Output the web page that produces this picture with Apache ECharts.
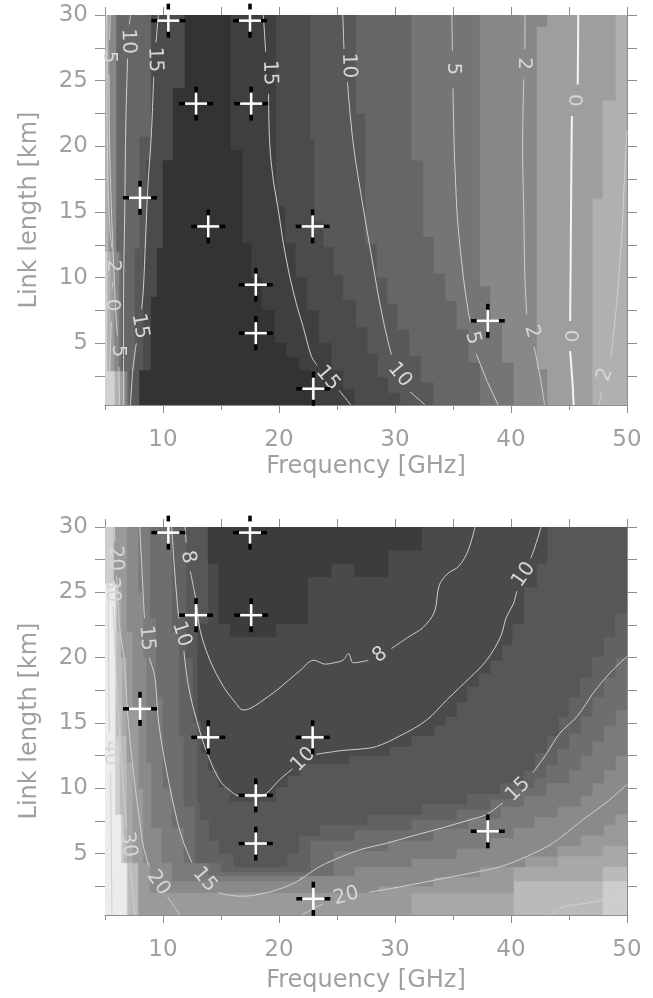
<!DOCTYPE html>
<html>
<head>
<meta charset="utf-8">
<script src="https://cdn.jsdelivr.net/npm/echarts@6/dist/echarts.min.js"></script>
<style>
html, body { margin: 0; padding: 0; background: #fff; }
#chart { width: 653px; height: 998px; }
</style>
</head>
<body>
<div id="chart"></div>
<script>
// ---------- data (freq in GHz, length in km) ----------
const FREQ_MIN = 5, FREQ_MAX = 50, KM_MIN = 0.3, KM_MAX = 30

// measurement sites (same in both panels)
const siteFreq = [10.46, 17.5, 12.85, 17.6, 8.02, 13.9, 22.9, 18.0, 18.0, 22.96, 38.0]
const siteKm = [29.57, 29.57, 23.25, 23.25, 16.08, 13.9, 13.9, 9.46, 5.77, 1.54, 6.71]

// top panel: shaded levels, darkest first. steps = [km where step starts (from top), freq]
const topLeftEdges = [
    [[30, 11.9], [24.4, 10.9], [18.9, 10.0], [12.2, 9.5], [8.5, 9.0], [2.9, 8.0]],
    [[30, 11.9], [24.4, 10.9], [18.9, 10.0], [12.2, 9.5], [8.5, 9.0], [2.9, 8.0]],
    [[30, 9.0], [18.9, 8.6], [12.2, 8.3], [2.9, 8.0]],
    [[30, 9.0], [20.7, 8.0], [12.2, 7.6], [2.9, 7.16]],
    [[30, 6.0], [12, 6.4], [2.9, 7.0]],
    [[30, 6.0], [12, 6.2], [2.9, 6.9]],
    [[30, 5.4], [12, 5.8], [2.9, 6.72]],
    [[30, 5.3], [12, 5.5], [2.9, 6.3]],
    [[30, 5.0], [12, 5.2], [2.9, 5.86]],
    [[30, 5.0]]
]
const topRightEdges = [
    [[30, 15.8], [19.7, 16.8], [12.6, 17.6], [10, 18.5], [7.5, 19.6], [5, 20.6], [3.9, 21.7], [2.9, 22.7]],
    [[30, 19.7], [15.4, 20.5], [12.6, 21.4], [10, 22.4], [7.5, 23.4], [5, 24.5], [2.9, 25.5], [1.5, 26.5]],
    [[30, 22.7], [20.5, 23.0], [14.3, 23.8], [12.3, 24.7], [10.2, 25.5], [8.3, 26.6], [6.2, 27.6], [4.2, 28.5], [2.4, 29.4], [1.2, 30.4]],
    [[30, 26.6], [22.5, 27.4], [12.5, 28.4], [10, 29.3], [8, 30.2], [6, 31.2], [4, 32.2], [2, 33.3]],
    [[30, 31.4], [18.9, 32.4], [13.1, 33.3], [10.3, 34.3], [8.2, 35.3], [6, 36.3], [3.5, 37.3]],
    [[30, 37.3], [9.3, 38.2], [6.7, 39.2], [3.5, 40.2]],
    [[30, 43.1], [29.1, 42.2], [3.0, 43.1]],
    [[30, 49.0], [23.5, 47.9], [16, 47.0]],
    [[30, 50]],
    [[30, 50]]
]

// bottom panel: shaded levels, lightest first. left steps + lower-right boundary vertices
const botLeftEdges = [
    [[30, 5.0]],
    [[30, 5.0], [25.7, 5.9], [8, 6.4], [4.3, 6.9]],
    [[30, 5.8], [25.7, 6.0], [14, 6.3], [8, 6.6], [4.3, 7.0]],
    [[30, 5.8], [25.7, 6.1], [22, 6.5], [14, 6.9], [4.3, 7.9]],
    [[30, 5.8], [25.7, 6.4], [20, 6.9], [12, 7.4], [4.3, 7.9]],
    [[30, 6.9], [22, 7.4], [16, 7.9], [10, 8.3], [4.3, 8.9]],
    [[30, 7.9], [25, 8.3], [20, 8.6], [12, 9.0], [7, 9.9], [4.3, 10.8]],
    [[30, 8.9], [23, 9.4], [17, 10.0], [10, 10.8], [7, 11.8]],
    [[30, 10.8], [22, 11.4], [14, 11.8], [8.6, 12.8]],
    [[30, 12.0], [20, 12.6], [15, 13.0], [8.9, 13.2], [7.6, 14.0], [6, 14.9]]
]
const botLowerEdges = [
    [],
    [],
    [[50, 2.9], [47.9, 2.9], [47.9, 0.3]],
    [[50, 4.0], [47.9, 4.0], [47.9, 2.9], [40.2, 2.9], [40.2, 0.3]],
    [[50, 5.6], [47.9, 5.6], [47.9, 4.8], [44, 4.8], [44, 4.0], [40.2, 4.0], [40.2, 2.0], [31.4, 2.0], [31.4, 0.3]],
    [[50, 8.0], [49, 8.0], [49, 7.2], [48, 7.2], [48, 6.4], [46, 6.4], [46, 5.6], [44, 5.6], [44, 4.8], [41.2, 4.8], [41.2, 4.0], [37.3, 4.0], [37.3, 3.2], [33.3, 3.2], [33.3, 2.5], [28.5, 2.5], [28.5, 2.0], [8.9, 2.0]],
    [[50, 12.5], [49, 12.5], [49, 11.4], [48, 11.4], [48, 10.4], [47, 10.4], [47, 9.4], [46, 9.4], [46, 8.6], [44, 8.6], [44, 7.8], [42, 7.8], [42, 7.0], [40.2, 7.0], [40.2, 6.2], [38.2, 6.2], [38.2, 5.4], [35.3, 5.4], [35.3, 4.6], [31.4, 4.6], [31.4, 4.0], [26.5, 4.0], [26.5, 3.3], [21.7, 3.3], [21.7, 2.9], [10.8, 2.9]],
    [[50, 16.0], [49, 16.0], [49, 14.8], [48, 14.8], [48, 13.6], [47, 13.6], [47, 12.5], [46, 12.5], [46, 11.4], [45, 11.4], [45, 10.4], [43, 10.4], [43, 9.4], [41.1, 9.4], [41.1, 8.6], [39.1, 8.6], [39.1, 7.7], [36.3, 7.7], [36.3, 6.9], [33.3, 6.9], [33.3, 6.0], [29.4, 6.0], [29.4, 5.2], [24.7, 5.2], [24.7, 3.3], [13.9, 3.3], [13.9, 4.3], [11.8, 4.3]],
    [[50, 20.0], [49, 20.0], [49, 18.5], [48, 18.5], [48, 17.0], [47, 17.0], [47, 15.5], [46, 15.5], [46, 14.2], [45, 14.2], [45, 13.0], [44, 13.0], [44, 11.8], [43, 11.8], [43, 10.8], [42, 10.8], [42, 10.0], [40.2, 10.0], [40.2, 9.2], [38.2, 9.2], [38.2, 8.4], [35.3, 8.4], [35.3, 7.6], [31.4, 7.6], [31.4, 6.8], [26.5, 6.8], [26.5, 6.0], [22.7, 6.0], [22.7, 3.6], [15.0, 3.6], [15.0, 4.3], [12.8, 4.3]],
    [[50, 23.4], [48.96, 23.4], [48.96, 21.6], [47.96, 21.6], [47.96, 20.1], [46.95, 20.1], [46.95, 18.5], [45.95, 18.5], [45.95, 17.0], [44.94, 17.0], [44.94, 15.5], [44.08, 15.5], [44.08, 14.0], [43.07, 14.0], [43.07, 12.7], [42.07, 12.7], [42.07, 11.4], [41.06, 11.4], [41.06, 10.4], [39.05, 10.4], [39.05, 9.6], [36.2, 9.6], [36.2, 8.8], [32.3, 8.8], [32.3, 8.0], [27.6, 8.0], [27.6, 7.2], [23.5, 7.2], [23.5, 6.4], [21.7, 6.4], [21.7, 5.0], [20.7, 5.0], [20.7, 4.0], [16.1, 4.0], [16.1, 5.0], [14.9, 5.0]]
]
const botBasin = [[13.9, 30], [43.1, 30], [43.1, 27.2], [42.2, 27.2], [42.2, 25.4], [41.1, 25.4], [41.1, 22.6], [40.1, 22.6], [40.1, 21.0], [39.2, 21.0], [39.2, 19.8], [38.2, 19.8], [38.2, 18.8], [37.2, 18.8], [37.2, 17.8], [36.2, 17.8], [36.2, 16.6], [35.3, 16.6], [35.3, 15.5], [34.3, 15.5], [34.3, 14.8], [33.4, 14.8], [33.4, 14.0], [31.4, 14.0], [31.4, 13.2], [29.5, 13.2], [29.5, 12.5], [26.0, 12.5], [26.0, 11.9], [21.8, 11.9], [21.8, 11.0], [20.7, 11.0], [20.7, 10.1], [19.7, 10.1], [19.7, 9.0], [15.8, 9.0], [15.8, 10.1], [14.8, 10.1], [14.8, 11.4], [13.9, 11.4], [13.9, 12.7], [13.3, 12.7], [13.3, 15.2], [13.0, 15.2], [13.0, 22.6], [13.9, 22.6]]
const botCore = [[13.9, 30], [32.3, 30], [32.3, 28.2], [29.4, 28.2], [29.4, 26.2], [26.5, 26.2], [26.5, 27.2], [24.5, 27.2], [24.5, 26.2], [22.5, 26.2], [22.5, 22.6], [19.7, 22.6], [19.7, 21.6], [15.8, 21.6], [15.8, 22.6], [14.8, 22.6], [14.8, 27.2], [13.9, 27.2]]

// contour lines, null = gap for the label
const topContours = [
    [[18.65, 30], [18.85, 27.2], null, [19.1, 24.0], [19.2, 20.2], [19.5, 17.5], [19.95, 15.1], [20.4, 12.5], [20.95, 10.0], [21.5, 8.0], [22.1, 6.2], [22.8, 4.0], [23.3, 3.3], null, [25.2, 1.4], [26.2, 0.3]],
    [[25.5, 30], [25.6, 27.4], null, [25.9, 24.9], [26.4, 20.2], [27.3, 15.1], [28.1, 11.0], [28.7, 8.0], [29.3, 5.5], [29.7, 4.1], null, [31.3, 1.3], [32.6, 0.3]],
    [[34.9, 30], [34.95, 27.3], null, [35.0, 24.4], [35.1, 20], [35.2, 17.7], [35.4, 14.3], [35.9, 10], [36.3, 7.5], [36.5, 6.6], null, [37.0, 4.2], [38.0, 2.0], [38.9, 0.3]],
    [[41.2, 30], [41.2, 27.4], null, [41.1, 25.1], [41.0, 20], [41.1, 15], [41.2, 10], [41.35, 7.2], null, [42.0, 4.7], [42.5, 2.5], [42.9, 0.3]],
    [[45.8, 30], [45.75, 24.7], null, [45.25, 22.3], [45.2, 18], [45.15, 12], [45.1, 6.7], null, [45.1, 4.4], [45.3, 2], [45.4, 0.3]],
    [[50, 21.2], [49.8, 18], [49.6, 14], [49.3, 10], [49.0, 7], [48.6, 3.9], null, [47.8, 1.3], [47.6, 0.3]],
    [[9.6, 30], [9.4, 27.9], null, [9.2, 25.3], [9.0, 21], [8.7, 17], [8.5, 13], [8.3, 9], [8.15, 7.6], null, [7.7, 5.0], [7.4, 3.0], [7.2, 0.3]],
    [[7.2, 30], [7.1, 29.3], null, [6.95, 26.7], [6.8, 22], [6.7, 15], [6.6, 8], [6.6, 0.3]],
    [[5.45, 30], [5.4, 28.1], null, [5.35, 25.5], [5.4, 20], [5.6, 14], [5.8, 10], [5.95, 7], [6.08, 5.6], null, [6.2, 3.2], [6.25, 0.3]],
    [[5.15, 30], [5.2, 20], [5.4, 14], [5.6, 12.2], null, [5.68, 9.7], [5.6, 9.1], null, [5.55, 6.7], [5.4, 3], [5.35, 0.3]]
]
const topLabels = [
    ['15', 19.2, 25.6], ['15', 24.2, 2.35], ['10', 26.0, 26.15], ['10', 30.4, 2.6],
    ['5', 35.0, 25.9], ['5', 36.7, 5.4], ['2', 41.1, 26.3], ['2', 41.8, 5.9],
    ['0', 45.45, 23.5], ['0', 45.1, 5.55], ['2', 48.1, 2.6], ['15', 9.3, 26.6],
    ['15', 8.0, 6.3], ['10', 7.0, 28.0], ['5', 5.35, 26.8], ['5', 6.15, 4.4],
    ['2', 5.7, 10.9], ['0', 5.6, 7.9]
]
const botContours = [
    [[11.9, 30], [12.0, 28.8], null, [12.35, 26.6], [12.8, 24.6], [13.2, 22.1], [14.05, 19.8], [15.2, 17.8], [16.2, 16.6], [16.9, 16.0], [17.5, 16.1], [18.4, 16.6], [19.8, 17.5], [21.8, 19.0], [23.0, 19.8], [24.0, 19.5], [24.7, 19.6], [25.5, 19.8], [26.0, 20.3], [26.4, 19.6], [27.2, 19.7], [27.7, 19.8], null, [29.7, 20.7], [31.2, 21.6], [32.4, 22.3], [33.4, 23.5], [33.8, 25.5], [34.5, 26.4], [35.5, 27.0], [36.3, 28.2], [36.9, 30]],
    [[10.75, 30], [11.0, 26.7], [11.3, 23.5], [11.4, 23.0], null, [11.8, 20.5], [12.2, 17.8], [12.9, 15.2], [13.8, 12.7], [14.9, 10.6], [15.8, 9.8], [16.6, 9.4], [18.1, 9.35], [18.9, 9.6], [20.1, 10.7], [21.2, 11.5], null, [23.2, 12.6], [25.5, 12.9], [27.0, 13.0], [28.4, 13.2], [30.4, 14.0], [32.7, 15.2], [34.5, 16.8], [36.5, 18.5], [37.9, 19.8], [39.1, 21.6], [39.6, 23.1], [40.2, 24.1], [40.5, 25.1], null, [41.7, 27.6], [42.0, 28.3], [42.6, 30]],
    [[8.0, 30], [8.2, 26.5], [8.4, 23.0], null, [8.8, 20.0], [9.3, 18.5], [9.6, 15.2], [10.3, 11.4], [11.2, 7.6], [11.8, 5.8], [12.5, 4.3], null, [14.8, 2.0], [15.8, 1.8], [16.9, 1.74], [18.9, 2.0], [20.7, 2.5], [21.8, 3.0], [23.5, 4.0], [25.5, 4.8], [27.0, 5.3], [29.3, 5.8], [31.3, 6.3], [34.2, 7.0], [36.5, 7.6], [37.9, 8.0], [39.3, 8.9], null, [41.9, 11.2], [43.1, 12.7], [44.2, 14.2], [45.7, 15.5], [47.1, 17.3], [48.5, 18.8], [50, 20.1]],
    [[5.8, 30], [5.85, 28.9], null, [6.0, 26.3], [6.3, 22], [6.6, 20.3], [7.0, 15.2], [7.6, 10.1], [8.0, 7.5], [8.3, 5.6], [8.8, 4.0], null, [10.4, 1.7], [11.0, 0.9], [11.5, 0.3]],
    [[22.0, 0.3], [23.0, 0.8], [23.8, 1.15], null, [27.8, 2.05], [29.5, 2.3], [31.3, 2.6], [33.6, 3.0], [36.5, 3.5], [39.1, 4.0], [41.4, 4.8], [43.6, 5.8], [46.2, 7.6], [48.2, 8.9], [50, 10.3]],
    [[5.5, 30], [5.52, 26.5], null, [5.7, 23.9], [5.9, 20], [6.2, 15], [6.6, 10], [6.85, 7.0], null, [7.15, 4.4], [7.4, 2.0], [7.6, 0.3]],
    [[43.4, 0.3], [44.2, 0.8], [44.8, 1.0], [46.5, 1.2], [48.2, 1.5], [50, 1.9]],
    [[5.25, 30], [5.3, 20], [5.38, 14.2], null, [5.48, 11.2], [5.55, 5], [5.6, 0.3]]
]
const botLabels = [
    ['8', 12.15, 27.7], ['8', 28.7, 20.2], ['10', 11.6, 21.8], ['10', 22.1, 12.2],
    ['10', 41.1, 26.35], ['15', 8.6, 21.5], ['15', 13.6, 3.0], ['15', 40.6, 9.9],
    ['20', 5.9, 27.6], ['20', 9.6, 2.75], ['20', 25.8, 1.75], ['30', 5.6, 25.2],
    ['30', 7.0, 5.7], ['40', 5.43, 12.7]
]

// ---------- styles ----------
const topShades = ['#333333', '#3f3f3f', '#4b4b4b', '#585858', '#666666', '#757575', '#888888', '#9e9e9e', '#b0b0b0', '#d2d2d2']
const botShades = ['#ececec', '#cdcdcd', '#bababa', '#a8a8a8', '#9a9a9a', '#8a8a8a', '#7b7b7b', '#6e6e6e', '#626262', '#575757', '#4a4a4a', '#3c3c3c']
const topLabelAngles = [-88, -50, -88, -50, -90, -75, -90, -75, -90, -90, 70, -88, -80, -88, -90, -90, -90, -90]
const botLabelAngles = [-78, 35, -72, 45, 55, -85, -50, 45, -87, -55, 15, -87, -82, -90]
const thickTopContour = 4
const FONT = 'DejaVu Sans'
const TXT = '#a0a0a0'
const FRAME = '#8e8e8e'

// ---------- polygon builders ----------
function bandPolygon(left, right) {
    const pts = []
    left.forEach((s, i) => {
        const bot = i < left.length - 1 ? left[i + 1][0] : KM_MIN
        pts.push([s[1], s[0]], [s[1], bot])
    })
    for (let i = right.length - 1; i >= 0; i--) {
        const bot = i < right.length - 1 ? right[i + 1][0] : KM_MIN
        pts.push([right[i][1], bot], [right[i][1], right[i][0]])
    }
    return pts
}
function cornerPolygon(left, lower) {
    const pts = [[left[0][1], KM_MAX], [FREQ_MAX, KM_MAX]]
    if (lower.length) lower.forEach(p => pts.push(p))
    else pts.push([FREQ_MAX, KM_MIN])
    const end = lower.length ? lower[lower.length - 1][1] : KM_MIN
    for (let i = left.length - 1; i >= 0; i--) {
        const bot = i < left.length - 1 ? left[i + 1][0] : end
        pts.push([left[i][1], bot], [left[i][1], left[i][0]])
    }
    return pts
}

const topPolys = []
const topColors = []
for (let k = topLeftEdges.length - 1; k >= 0; k--) {
    topPolys.push(bandPolygon(topLeftEdges[k], topRightEdges[k]))
    topColors.push(topShades[k])
}
const botPolys = botLeftEdges.map((l, i) => cornerPolygon(l, botLowerEdges[i]))
botPolys.push(botBasin, botCore)
const botColors = botShades.slice()

// ---------- series helpers ----------
function fillSeries(polys, colors, xi, yi) {
    return {
        type: 'custom', xAxisIndex: xi, yAxisIndex: yi, clip: true, silent: true, z: 1,
        data: polys.map(p => p[0]),
        renderItem: (params, api) => ({
            type: 'polygon',
            z2: params.dataIndex,
            shape: { points: polys[params.dataIndex].map(p => api.coord(p)) },
            style: { fill: colors[params.dataIndex], stroke: colors[params.dataIndex], lineWidth: 0.4 }
        })
    }
}
function contourSeries(lines, xi, yi, thickIndex) {
    const out = []
    lines.forEach((line, li) => {
        let seg = []
        const flush = () => {
            if (seg.length > 1) {
                out.push({
                    type: 'line', xAxisIndex: xi, yAxisIndex: yi, data: seg, smooth: 0.35,
                    showSymbol: false, silent: true, z: 3, clip: true,
                    lineStyle: li === thickIndex ? { color: '#f4f4f4', width: 2 } : { color: '#cfcfcf', width: 1 }
                })
            }
            seg = []
        }
        line.forEach(p => { if (p === null) flush(); else seg.push(p) })
        flush()
    })
    return out
}
function labelSeries(labels, angles, xi, yi) {
    return {
        type: 'custom', xAxisIndex: xi, yAxisIndex: yi, silent: true, z: 4, clip: false,
        data: labels.map(l => [l[1], l[2]]),
        renderItem: (params, api) => {
            const p = api.coord([api.value(0), api.value(1)])
            return {
                type: 'text', x: p[0], y: p[1],
                rotation: angles[params.dataIndex] * Math.PI / 180,
                style: {
                    text: labels[params.dataIndex][0], fill: '#d6d6d6',
                    font: '20px "' + FONT + '"', align: 'center', verticalAlign: 'middle'
                }
            }
        }
    }
}
function siteSeries(xi, yi) {
    return {
        type: 'custom', xAxisIndex: xi, yAxisIndex: yi, silent: true, z: 5, clip: false,
        data: siteFreq.map((f, i) => [f, siteKm[i]]),
        renderItem: (params, api) => {
            const [cx, cy] = api.coord([api.value(0), api.value(1)])
            const seg = (x1, y1, x2, y2, c, w) => ({
                type: 'line', shape: { x1, y1, x2, y2 }, style: { stroke: c, lineWidth: w }
            })
            return {
                type: 'group',
                children: [
                    seg(cx - 17, cy, cx - 11, cy, '#000', 3.5),
                    seg(cx + 11, cy, cx + 17, cy, '#000', 3.5),
                    seg(cx, cy - 17, cx, cy - 11, '#000', 3.5),
                    seg(cx, cy + 11, cx, cy + 17, '#000', 3.5),
                    seg(cx - 11, cy, cx + 11, cy, '#fff', 2.5),
                    seg(cx, cy - 11, cx, cy + 11, '#fff', 2.5)
                ]
            }
        }
    }
}

// ---------- axes ----------
const labelStyle = { color: TXT, fontSize: 23, fontFamily: FONT }
const lineStyle = { color: FRAME, width: 1 }
function xAxes(g, nameGap) {
    return [
        {
            gridIndex: g, type: 'value', min: FREQ_MIN, max: FREQ_MAX, position: 'bottom',
            axisLine: { show: true, lineStyle }, splitLine: { show: false },
            axisTick: { show: true, length: 8, lineStyle, customValues: [10, 20, 30, 40, 50] },
            axisLabel: Object.assign({ margin: 24, customValues: [10, 20, 30, 40, 50] }, labelStyle),
            name: 'Frequency [GHz]', nameLocation: 'middle', nameGap,
            nameTextStyle: { color: TXT, fontSize: 24, fontFamily: FONT }
        },
        {
            gridIndex: g, type: 'value', min: FREQ_MIN, max: FREQ_MAX, position: 'bottom',
            axisLine: { show: false }, splitLine: { show: false }, axisLabel: { show: false },
            axisTick: { show: true, length: 5, lineStyle, customValues: [5, 15, 25, 35, 45] }
        },
        {
            gridIndex: g, type: 'value', min: FREQ_MIN, max: FREQ_MAX, position: 'top',
            axisLine: { show: true, lineStyle }, splitLine: { show: false }, axisLabel: { show: false },
            axisTick: { show: true, length: 8, lineStyle, customValues: [5, 10, 15, 20, 25, 30, 35, 40, 45, 50] }
        }
    ]
}
function yAxes(g) {
    const ticks = [2.5, 5, 7.5, 10, 12.5, 15, 17.5, 20, 22.5, 25, 27.5, 30]
    return [
        {
            gridIndex: g, type: 'value', min: KM_MIN, max: KM_MAX, position: 'left',
            axisLine: { show: true, lineStyle }, splitLine: { show: false },
            axisTick: { show: true, length: 10, lineStyle, customValues: ticks },
            axisLabel: Object.assign({ margin: 17, customValues: [5, 10, 15, 20, 25, 30] }, labelStyle),
            name: 'Link length [km]', nameLocation: 'middle', nameGap: 63, nameRotate: 90,
            nameTextStyle: { color: TXT, fontSize: 24, fontFamily: FONT }
        },
        {
            gridIndex: g, type: 'value', min: KM_MIN, max: KM_MAX, position: 'right',
            axisLine: { show: true, lineStyle }, splitLine: { show: false }, axisLabel: { show: false },
            axisTick: { show: true, length: 10, lineStyle, customValues: ticks }
        }
    ]
}

const chart = echarts.init(document.getElementById('chart'))
chart.setOption({
    animation: false,
    backgroundColor: '#fff',
    grid: [
        { left: 105, top: 15, width: 522, height: 390 },
        { left: 105, top: 527, width: 522, height: 388 }
    ],
    xAxis: [...xAxes(0, 50), ...xAxes(1, 54)],
    yAxis: [...yAxes(0), ...yAxes(1)],
    series: [
        fillSeries(topPolys, topColors, 0, 0),
        ...contourSeries(topContours, 0, 0, thickTopContour),
        labelSeries(topLabels, topLabelAngles, 0, 0),
        siteSeries(0, 0),
        fillSeries(botPolys, botColors, 3, 2),
        ...contourSeries(botContours, 3, 2, -1),
        labelSeries(botLabels, botLabelAngles, 3, 2),
        siteSeries(3, 2)
    ]
})
</script>
</body>
</html>
